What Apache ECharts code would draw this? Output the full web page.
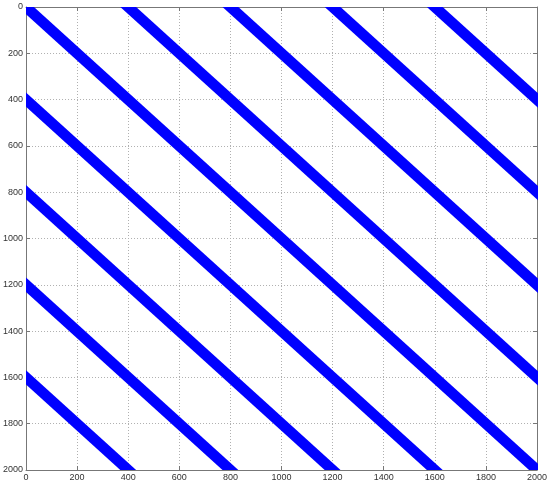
<!DOCTYPE html>
<html>
<head>
<meta charset="utf-8">
<script src="https://cdn.jsdelivr.net/npm/echarts@6/dist/echarts.min.js"></script>
<style>
  html, body { margin: 0; padding: 0; background: #fff; }
  #spy { width: 550px; height: 487px; }
</style>
</head>
<body>
<div id="spy"></div>
<script>
// matrix size and diagonal offsets (column - row) of the nonzero bands
const matrixSize = 2000
const bandOffsets = [-1600, -1200, -800, -400, 0, 400, 800, 1200, 1600]
const bandHalfWidth = 31
const tickValues = [0, 200, 400, 600, 800, 1000, 1200, 1400, 1600, 1800, 2000]

let myChart = echarts.init(document.getElementById('spy'))

const labelStyle = {
  color: '#333',
  fontSize: 9,
  fontFamily: 'Liberation Sans, Arial, sans-serif',
  formatter: v => String(v)
}
const gridLine = { show: true, lineStyle: { color: '#b0b0b0', width: 1, type: [1, 2] } }

function axisBase (extra) {
  return Object.assign({
    type: 'value',
    min: tickValues[0],
    max: tickValues[tickValues.length - 1],
    interval: tickValues[1] - tickValues[0],
    axisLine: { show: true, onZero: false, lineStyle: { color: '#777', width: 1 } },
    axisTick: { show: true, inside: true, length: 4, lineStyle: { color: '#777' } },
    splitLine: { show: false }
  }, extra)
}

myChart.setOption({
  animation: false,
  grid: { left: 26, top: 7, right: 12, bottom: 17 },
  xAxis: [
    axisBase({ position: 'bottom', axisLabel: Object.assign({ margin: 3 }, labelStyle), splitLine: gridLine }),
    axisBase({ position: 'top', axisLabel: { show: false } })
  ],
  yAxis: [
    axisBase({ position: 'left', inverse: true, axisLabel: Object.assign({ margin: 3 }, labelStyle), splitLine: gridLine }),
    axisBase({ position: 'right', inverse: true, axisLabel: { show: false } })
  ],
  series: [{
    type: 'custom',
    clip: true,
    xAxisIndex: 0,
    yAxisIndex: 0,
    data: bandOffsets.map(k => [k]),
    encode: { x: 0 },
    renderItem (params, api) {
      const k = api.value(0)
      const lo = -200
      const hi = matrixSize + 200
      // band: col - row in [k - w, k + w], drawn long and clipped to the grid
      const pts = [
        [k - bandHalfWidth + lo, lo],
        [k + bandHalfWidth + lo, lo],
        [k + bandHalfWidth + hi, hi],
        [k - bandHalfWidth + hi, hi]
      ].map(p => api.coord(p))
      return { type: 'polygon', shape: { points: pts }, style: { fill: '#0000ff' } }
    }
  }]
})
</script>
</body>
</html>
